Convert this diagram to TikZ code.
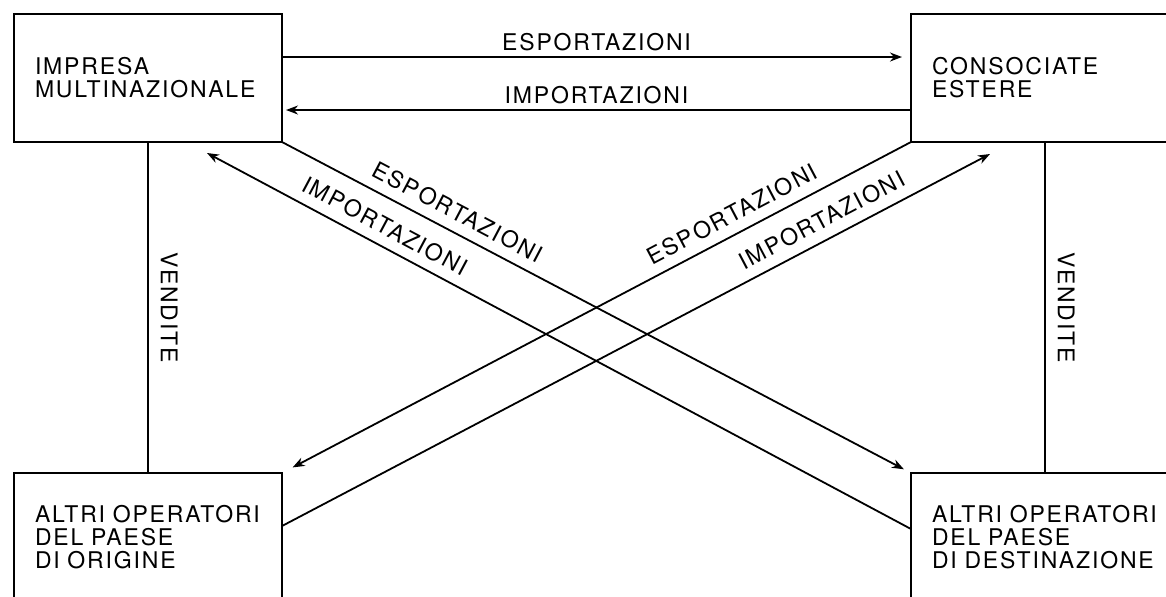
\documentclass[tikz,border=0pt]{standalone}
\usepackage{fontspec}
\setmainfont{TeX Gyre Heros}[LetterSpace=8]
\usetikzlibrary{
    positioning,
    arrows.meta
}
\tikzset{%
    company/.style={%
        rectangle,
        draw,
        line width=0.9pt,
        inner sep = 0pt,
        outer sep = 0pt,
        minimum width=134pt,
        minimum height=64pt,
        text width=113pt,
        align=left,
        font=\fontsize{11.5pt}{11.6pt}\selectfont
    },
    flow/.style={%
        line width=0.9pt,
        >={Stealth[length=6pt,width=4.5pt]},
        ->
    },
    flow back/.style={%
        flow,
        <-
    },
    trade/.style={%
        font=\fontsize{11.5pt}{11.6pt}\selectfont,
        inner sep=2.5pt
    },
    slanted trade/.style={%
        trade,
        sloped,
        above,
        inner sep=5pt
    },
}

\begin{document}
\begin{tikzpicture}[x=0.5pt, y=-0.5pt]
    \useasboundingbox (0,0) rectangle (1166,596);
    \clip (0,0) rectangle (1166,596);

    \node[company] (impresa) at (148,78) {IMPRESA\\MULTINAZIONALE};
    \node[company] (consociate) at (1045,78) {CONSOCIATE\\ESTERE};
    \node[company] (origine) at (148,537) {ALTRI OPERATORI\\DEL PAESE\\DI ORIGINE};
    \node[company] (destinazione) at (1045,537) {ALTRI OPERATORI\\DEL PAESE\\DI DESTINAZIONE};

    \coordinate (impresa in) at (207,153);
    \coordinate (consociate in) at (990,154);

    % vendite
    \draw[line width=0.9pt] (impresa.south) -- node[trade, midway, rotate=-90, anchor=south, inner sep=6pt] {VENDITE} (origine.north);
    \draw[line width=0.9pt] (consociate.south) -- node[trade, midway, rotate=-90, anchor=south, inner sep=6pt] {VENDITE} (destinazione.north);

    % flussi orizzontali
    \draw[flow, shorten >=4.5pt] ([yshift=10.5pt]impresa.east) -- node[trade, above] {ESPORTAZIONI} ([yshift=10.5pt]consociate.west);
    \draw[flow, shorten >=2pt] ([yshift=-16pt]consociate.west) -- node[trade, above] {IMPORTAZIONI} ([yshift=-16pt]impresa.east);

    % flussi incrociati
    \draw[flow, shorten >=4pt] (impresa.south east) -- node[slanted trade, pos=0.265] {ESPORTAZIONI} (destinazione.north west);
    \draw[flow back] (impresa in) -- node[slanted trade, pos=0.24] {IMPORTAZIONI} ([yshift=4pt]destinazione.west);
    \draw[flow back, shorten <=6pt] (origine.north east) -- node[slanted trade, pos=0.73] {ESPORTAZIONI} (consociate.south west);
    \draw[flow] ([yshift=5.5pt]origine.east) -- node[slanted trade, pos=0.775] {IMPORTAZIONI} (consociate in);
\end{tikzpicture}
\end{document}
